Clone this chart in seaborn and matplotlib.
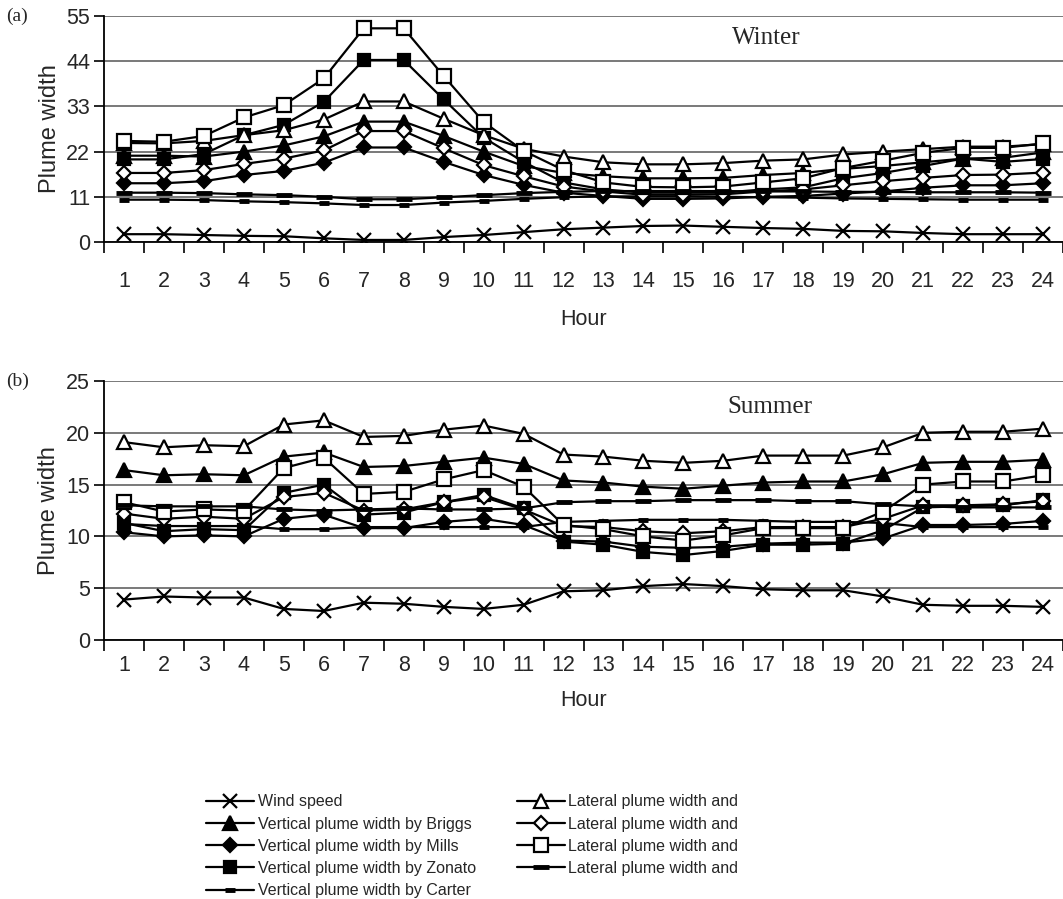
import matplotlib
matplotlib.use("Agg")
import matplotlib.pyplot as plt
import seaborn as sns
import pandas as pd
import numpy as np

hours = list(range(1, 25))

# Winter (a)
wind_w = [1.9, 1.9, 1.7, 1.5, 1.4, 0.9, 0.5, 0.5, 1.2, 1.7, 2.4, 3.1, 3.5, 3.9, 4.0, 3.7, 3.4, 3.2, 2.7, 2.6, 2.2, 1.9, 1.9, 1.9]
briggs_w = [21.0, 21.0, 20.8, 22.0, 23.5, 25.7, 29.3, 29.3, 25.8, 22.0, 18.5, 16.8, 16.0, 15.5, 15.5, 15.6, 16.3, 16.8, 17.8, 18.5, 19.4, 20.3, 20.5, 21.8]
mills_w = [14.3, 14.3, 14.8, 16.3, 17.3, 19.3, 23.0, 23.0, 19.5, 16.3, 13.9, 12.0, 11.2, 10.5, 10.5, 10.6, 11.0, 11.2, 11.8, 12.3, 13.2, 13.8, 13.8, 14.3]
zonato_w = [20.1, 20.1, 21.4, 26.0, 28.5, 34.1, 44.3, 44.3, 34.7, 25.4, 19.5, 14.5, 12.8, 12.0, 12.0, 12.0, 12.8, 13.3, 15.5, 16.8, 18.5, 20.3, 19.5, 20.2]
carter_w = [10.3, 10.3, 10.2, 9.9, 9.7, 9.4, 9.0, 9.0, 9.6, 10.0, 10.5, 10.9, 11.1, 11.1, 11.1, 11.0, 10.9, 10.8, 10.6, 10.5, 10.4, 10.3, 10.3, 10.3]
lat_tri_w = [24.1, 24.0, 24.6, 26.0, 27.2, 29.8, 34.2, 34.2, 30.0, 26.0, 22.7, 20.8, 19.4, 18.9, 18.9, 19.2, 19.8, 20.1, 21.3, 22.0, 22.6, 23.2, 23.2, 23.8]
lat_dia_w = [16.8, 16.8, 17.5, 19.0, 20.3, 22.3, 27.0, 27.0, 22.8, 18.7, 16.0, 13.5, 12.3, 11.5, 11.5, 11.6, 12.3, 12.8, 13.8, 14.8, 15.6, 16.3, 16.4, 16.9]
lat_sq_w = [24.6, 24.4, 25.8, 30.3, 33.3, 39.8, 52.0, 52.0, 40.4, 29.2, 22.2, 17.5, 14.5, 13.4, 13.3, 13.5, 14.5, 15.5, 18.0, 19.8, 21.7, 22.9, 22.9, 24.0]
lat_dash_w = [12.0, 12.0, 11.9, 11.6, 11.4, 11.0, 10.4, 10.4, 10.9, 11.4, 11.9, 12.2, 12.4, 12.4, 12.4, 12.4, 12.3, 12.3, 12.2, 12.2, 12.1, 12.1, 12.1, 12.0]

# Summer (b)
wind_s = [3.9, 4.2, 4.1, 4.1, 3.0, 2.8, 3.6, 3.5, 3.2, 3.0, 3.4, 4.7, 4.8, 5.2, 5.4, 5.2, 4.9, 4.8, 4.8, 4.2, 3.4, 3.3, 3.3, 3.2]
briggs_s = [16.4, 15.9, 16.0, 15.9, 17.7, 18.1, 16.7, 16.8, 17.2, 17.6, 17.0, 15.4, 15.2, 14.8, 14.6, 14.9, 15.2, 15.3, 15.3, 16.0, 17.1, 17.2, 17.2, 17.4]
mills_s = [10.4, 10.0, 10.1, 10.0, 11.7, 12.1, 10.8, 10.8, 11.4, 11.7, 11.1, 9.6, 9.5, 9.0, 8.9, 9.0, 9.3, 9.4, 9.4, 9.8, 11.1, 11.1, 11.2, 11.5]
zonato_s = [11.3, 10.5, 10.7, 10.6, 14.2, 15.0, 12.1, 12.3, 13.3, 14.0, 12.7, 9.5, 9.2, 8.5, 8.2, 8.6, 9.2, 9.2, 9.3, 10.6, 12.8, 12.9, 13.0, 13.5]
carter_s = [11.2, 11.0, 11.0, 11.0, 10.7, 10.7, 10.9, 10.9, 10.9, 10.9, 10.9, 11.4, 11.5, 11.6, 11.6, 11.6, 11.5, 11.4, 11.4, 11.3, 10.9, 10.9, 10.9, 10.9]
lat_tri_s = [19.1, 18.6, 18.8, 18.7, 20.8, 21.2, 19.6, 19.7, 20.3, 20.7, 19.9, 17.9, 17.7, 17.3, 17.1, 17.3, 17.8, 17.8, 17.8, 18.6, 20.0, 20.1, 20.1, 20.4]
lat_dia_s = [12.2, 11.7, 11.9, 11.7, 13.8, 14.2, 12.5, 12.6, 13.3, 13.8, 12.6, 11.0, 10.9, 10.5, 10.3, 10.5, 10.9, 10.9, 10.9, 11.7, 13.0, 13.0, 13.1, 13.4]
lat_sq_s = [13.3, 12.4, 12.6, 12.5, 16.6, 17.6, 14.1, 14.3, 15.5, 16.4, 14.8, 11.1, 10.7, 10.0, 9.6, 10.1, 10.8, 10.8, 10.8, 12.4, 15.0, 15.3, 15.3, 15.9]
lat_dash_s = [13.0, 12.9, 12.9, 12.9, 12.6, 12.5, 12.6, 12.7, 12.6, 12.6, 12.7, 13.3, 13.4, 13.4, 13.5, 13.5, 13.5, 13.4, 13.4, 13.1, 12.9, 12.8, 12.8, 12.8]

labels = ['Wind speed',
          'Vertical plume width by Briggs',
          'Vertical plume width by Mills',
          'Vertical plume width by Zonato',
          'Vertical plume width by Carter',
          'Lateral plume width and',
          'Lateral plume width and ',
          'Lateral plume width and  ',
          'Lateral plume width and   ']

# marker, size, face colour
styles = [('x', 10, 'black'),
          ('^', 10, 'black'),
          ('D', 7.5, 'black'),
          ('s', 9, 'black'),
          ('_', 7, 'black'),
          ('^', 10, 'white'),
          ('D', 7.5, 'white'),
          ('s', 10, 'white'),
          ('_', 12, 'black')]

winter = [wind_w, briggs_w, mills_w, zonato_w, carter_w, lat_tri_w, lat_dia_w, lat_sq_w, lat_dash_w]
summer = [wind_s, briggs_s, mills_s, zonato_s, carter_s, lat_tri_s, lat_dia_s, lat_sq_s, lat_dash_s]

sns.set_style('ticks')
plt.rcParams['font.family'] = ['Liberation Sans', 'DejaVu Sans']

fig = plt.figure(figsize=(10.63, 8.99), dpi=100)
W, H = 1063, 899
ax1 = fig.add_axes([104 / W, 1 - 242 / H, (W - 104) / W, 226 / H])
ax2 = fig.add_axes([104 / W, 1 - 640 / H, (W - 104) / W, 259 / H])


def draw(ax, series, ymax, step, tpad, lpad):
    for vals, lab, (m, ms, fc) in zip(series, labels, styles):
        df = pd.DataFrame({'Hour': hours, 'v': vals})
        mew = 3.5 if m == '_' else 1.6
        sns.lineplot(data=df, x='Hour', y='v', ax=ax, color='black', lw=1.6,
                     marker=m, markersize=ms, markerfacecolor=fc,
                     markeredgecolor='black', markeredgewidth=mew,
                     label=lab, legend=False)
    ax.set_xlim(0.5, 24.38)
    ax.set_ylim(0, ymax)
    ax.set_yticks(np.arange(0, ymax + 0.1, step))
    ax.set_xticks(hours)
    ax.set_xticks(np.arange(0.5, 24.6, 1), minor=True)
    ax.tick_params(axis='x', which='major', length=0, pad=tpad, labelsize=15.5)
    ax.tick_params(axis='x', which='minor', length=8, width=1.2, color='black')
    ax.tick_params(axis='y', length=7, width=1.2, color='black', labelsize=15.5, pad=3)
    ax.yaxis.grid(True, color='#555555', lw=1.1)
    ax.set_axisbelow(True)
    for s in ['top', 'right']:
        ax.spines[s].set_visible(False)
    for s in ['left', 'bottom']:
        ax.spines[s].set_color('black')
        ax.spines[s].set_linewidth(1.3)
    ax.set_ylabel('Plume width', fontsize=17, labelpad=4)
    ax.set_xlabel('Hour', fontsize=15.5, labelpad=lpad)


draw(ax1, winter, 55, 11, 21, 12)
draw(ax2, summer, 25, 5, 11, 10)

fig.text(6 / W, 1 - 16 / H, '(a)', family='Liberation Serif', fontsize=14, va='center')
fig.text(6 / W, 1 - 381 / H, '(b)', family='Liberation Serif', fontsize=14, va='center')
fig.text(766 / W, 1 - 38 / H, 'Winter', family='Liberation Serif', fontsize=18, ha='center', va='center')
fig.text(770 / W, 1 - 407 / H, 'Summer', family='Liberation Serif', fontsize=18, ha='center', va='center')

handles, labs = ax1.get_legend_handles_labels()
fig.legend(handles, labs, ncol=2, loc='upper left', bbox_to_anchor=(200 / W, 1 - 788 / H),
           frameon=False, fontsize=11.5, handlelength=3.0, handletextpad=0.2,
           columnspacing=2.6, labelspacing=0.45, borderaxespad=0)

fig.savefig('out.png', dpi=100)
plt.close(fig)
